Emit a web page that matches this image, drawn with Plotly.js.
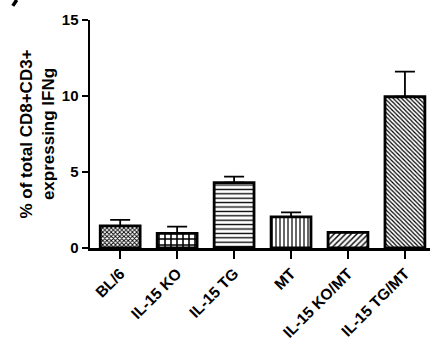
<!DOCTYPE html>
<html>
<head>
<meta charset="utf-8">
<script src="https://cdn.plot.ly/plotly-3.0.1.min.js"></script>
<style>html,body{margin:0;padding:0;background:#fff;}#chart{width:430px;height:343px;}</style>
</head>
<body>
<div id="chart"></div>
<script>
var categories = ["BL/6", "IL-15 KO", "IL-15 TG", "MT", "IL-15 KO/MT", "IL-15 TG/MT"];
var values = [1.45, 0.96, 4.3, 2.05, 1.03, 9.95];
var errorsUp = [0.4, 0.45, 0.4, 0.3, 0.0, 1.65];
var patternShapes = ["x", "+", "-", "|", "/", "\\"];
var patternSizes = [3, 6, 4.4, 4, 4, 3];
var patternSolidity = [0.5, 0.45, 0.3, 0.3, 0.35, 0.4];
var yTicks = [0, 5, 10, 15];

var trace = {
  type: "bar",
  x: categories,
  y: values,
  width: 0.7,
  marker: {
    color: "#ffffff",
    line: {color: "#000000", width: 2.8},
    pattern: {
      shape: patternShapes,
      size: patternSizes,
      solidity: patternSolidity,
      fgcolor: "#000000",
      bgcolor: "#ffffff",
      fillmode: "replace"
    }
  },
  error_y: {
    type: "data",
    symmetric: false,
    array: errorsUp,
    arrayminus: [0,0,0,0,0,0],
    color: "#000000",
    thickness: 1.8,
    width: 10
  },
  hoverinfo: "none"
};

var layout = {
  width: 430,
  height: 343,
  margin: {l: 90, r: 0, t: 20, b: 95},
  paper_bgcolor: "#ffffff",
  plot_bgcolor: "#ffffff",
  showlegend: false,
  font: {family: "Liberation Sans, Arial, sans-serif", color: "#000000"},
  xaxis: {
    range: [-0.53, 5.44],
    showline: true,
    linecolor: "#000000",
    linewidth: 2.5,
    ticks: "outside",
    ticklen: 8,
    tickwidth: 2,
    tickcolor: "#000000",
    tickangle: -45,
    tickfont: {size: 15.5, family: "Liberation Sans, Arial, sans-serif", weight: "bold"},
    showgrid: false,
    zeroline: false,
    automargin: false,
    fixedrange: true
  },
  yaxis: {
    range: [0, 15],
    tickvals: yTicks,
    ticktext: yTicks.map(String),
    showline: true,
    linecolor: "#000000",
    linewidth: 2.5,
    ticks: "outside",
    ticklen: 6,
    tickwidth: 2,
    tickcolor: "#000000",
    tickfont: {size: 15, family: "Liberation Sans, Arial, sans-serif", weight: "bold"},
    showgrid: false,
    zeroline: false,
    automargin: false,
    title: {
      text: "% of total CD8+CD3+<br>expressing IFNg",
      font: {size: 17, family: "Liberation Sans, Arial, sans-serif", weight: "bold"},
      standoff: 3
    },
    fixedrange: true
  },
  shapes: [{
    type: "line",
    xref: "paper", yref: "paper",
    x0: -0.2155, y0: 1.088, x1: -0.227, y1: 1.062,
    line: {color: "#000000", width: 3.5}
  }]
};

Plotly.newPlot("chart", [trace], layout, {displayModeBar: false, staticPlot: true});
</script>
</body>
</html>
